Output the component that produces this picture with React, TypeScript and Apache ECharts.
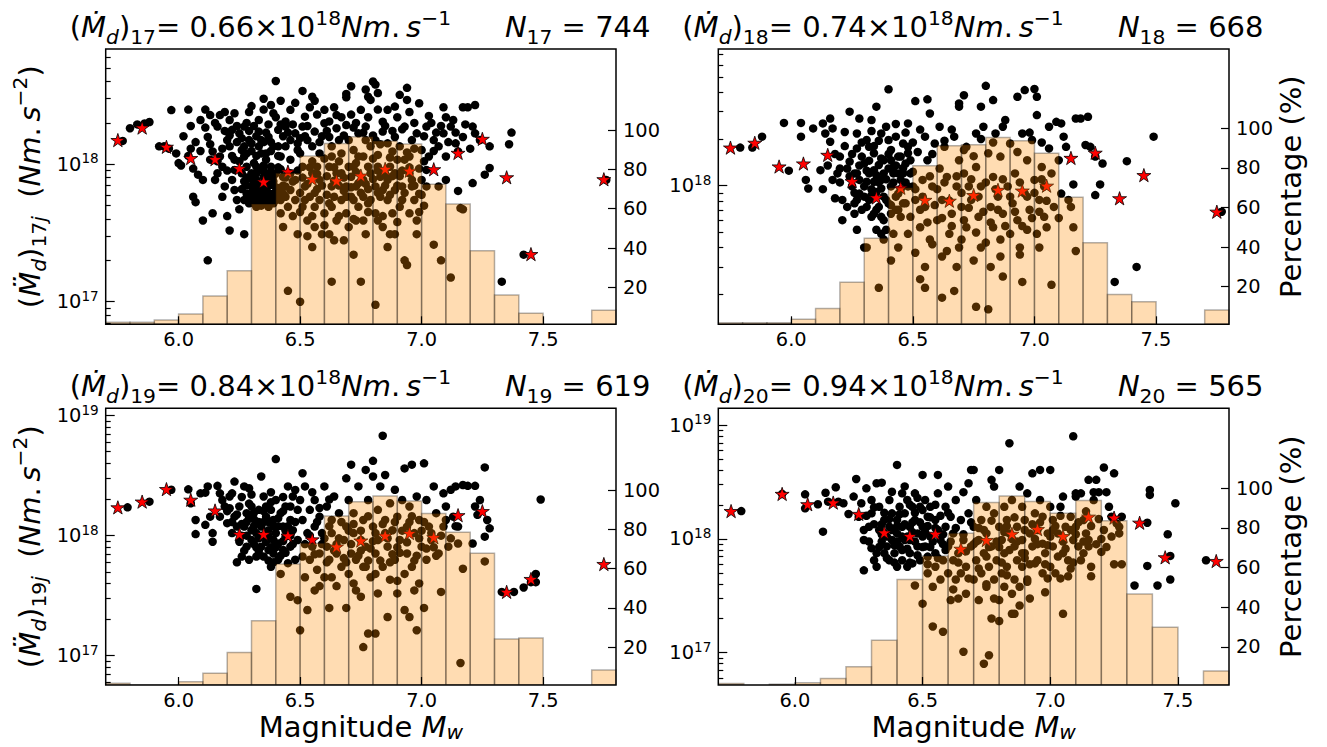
import { useEffect, useRef } from 'react';
import * as echarts from 'echarts';

// ---------------- data ----------------
const YEARS = ['17', '18', '19', '20'];
const MEAN_RATES = ['0.66', '0.74', '0.84', '0.94'];
const COUNTS = [744, 668, 619, 565];
const X_TICKS = [6.0, 6.5, 7.0, 7.5];
const PCT_TICKS = [20, 40, 60, 80, 100];
const LOG_MAJOR = [1e17, 1e18, 1e19];
const BIN_LEFT = [5.7, 5.8, 5.9, 6.0, 6.1, 6.2, 6.3, 6.4, 6.5, 6.6, 6.7, 6.8, 6.9, 7.0, 7.1, 7.2, 7.3, 7.4, 7.5, 7.6, 7.7];
const BIN_WIDTH = 0.1;

const P17_PCT = [2.3, 2.3, 3.4, 6.4, 15.6, 28.4, 62.4, 78.0, 86.8, 93.2, 96.6, 94.4, 92.9, 72.4, 62.4, 38.6, 16.1, 6.8, 0, 0, 8.4];
const P18_PCT = [1.8, 1.8, 1.8, 3.5, 9.0, 22.2, 44.4, 70.0, 81.0, 91.2, 91.6, 95.3, 93.7, 87.4, 65.1, 42.2, 16.1, 12.4, 0, 0, 8.2];
const P19_PCT = [1.7, 0.8, 0.8, 2.5, 6.8, 17.4, 33.5, 62.4, 72.9, 86.8, 94.1, 97.0, 94.4, 88.1, 78.5, 67.8, 24.2, 24.7, 0, 0, 8.4];
const P20_PCT = [1.5, 0, 1.1, 1.8, 4.0, 9.9, 23.3, 54.0, 65.8, 77.3, 92.9, 96.1, 93.3, 87.4, 93.8, 83.6, 46.6, 29.8, 0, 7.8];

// stars: [magnitude bin centre, value in 1e18 Nm.s^-2]
const P17_STARS = [[5.75,1.50],[5.85,1.85],[5.95,1.34],[6.05,1.11],[6.15,1.09],[6.25,0.935],[6.35,0.747],[6.45,0.884],[6.55,0.782],[6.65,0.76],[6.75,0.827],[6.85,0.925],[6.95,0.898],[7.05,0.92],[7.15,1.21],[7.25,1.53],[7.35,0.804],[7.45,0.222],[7.75,0.778]];
const P18_STARS = [[5.75,1.76],[5.85,1.89],[5.95,1.33],[6.05,1.39],[6.15,1.58],[6.25,1.07],[6.35,0.84],[6.45,0.97],[6.55,0.81],[6.65,0.80],[6.75,0.87],[6.85,0.94],[6.95,0.93],[7.05,1.0],[7.15,1.51],[7.25,1.63],[7.35,0.83],[7.45,1.17],[7.75,0.68]];
const P19_STARS = [[5.75,1.72],[5.85,1.92],[5.95,2.44],[6.05,1.99],[6.15,1.62],[6.25,1.03],[6.35,1.03],[6.45,1.0],[6.55,0.93],[6.65,0.81],[6.75,0.91],[6.85,1.0],[6.95,1.05],[7.05,0.97],[7.15,1.48],[7.25,1.6],[7.35,0.34],[7.45,0.435],[7.75,0.58]];
const P20_STARS = [[5.75,1.76],[5.95,2.49],[6.05,2.02],[6.15,2.09],[6.25,1.66],[6.35,1.14],[6.45,1.06],[6.55,1.11],[6.65,0.82],[6.75,0.98],[6.85,1.11],[6.95,1.22],[7.05,1.06],[7.15,1.57],[7.25,1.54],[7.35,1.39],[7.45,0.69],[7.65,0.64]];

// dots: [magnitude, value in 1e18 Nm.s^-2]
const P17_DOTS = [[5.77,1.48],[5.80,1.83],[5.83,1.95],[5.86,1.98],[5.88,2.03],[5.92,1.35],[5.94,1.35],[5.97,2.48],[5.96,1.3],[5.99,1.2],[6.00,1.02],[6.01,0.98],[6.04,2.5],[6.04,1.15],[6.05,1.3],[6.06,0.58],[6.07,0.53],[6.08,0.84],[6.06,0.93],[6.09,2.1],[6.10,0.77],[6.10,0.39],[6.11,2.5],[6.12,0.2],[6.12,1.58],[6.13,2.28],[6.14,0.44],[6.14,1.24],[6.15,0.77],[6.13,1.08],[6.16,1.88],[6.17,2.28],[6.17,1.14],[6.18,0.96],[6.20,1.5],[6.19,0.69],[6.20,0.42],[6.16,0.86],[6.18,0.58],[6.21,0.33],[6.21,2.1],[6.21,1.35],[6.22,0.77],[6.23,1.08],[6.23,0.91],[6.23,0.65],[6.24,0.55],[6.25,0.47],[6.25,1.68],[6.22,1.78],[6.26,1.27],[6.27,0.31],[6.27,1.14],[6.27,0.75],[6.28,0.61],[6.29,1.5],[6.29,0.52],[6.29,2.4],[6.30,0.69],[6.30,2.65],[6.28,0.96],[6.26,0.86],[6.27,1.88],[6.30,1.42],[6.30,0.86],[6.31,1.02],[6.32,0.73],[6.33,1.73],[6.33,0.61],[6.34,1.2],[6.34,0.55],[6.35,3.0],[6.35,0.81],[6.32,0.49],[6.32,0.96],[6.33,1.35],[6.31,0.65],[6.34,0.91],[6.36,0.69],[6.36,0.58],[6.37,1.58],[6.37,0.49],[6.38,0.88],[6.39,0.75],[6.39,1.35],[6.40,4.04],[6.41,1.78],[6.41,0.67],[6.42,1.14],[6.42,0.55],[6.43,0.81],[6.36,1.08],[6.37,0.77],[6.35,0.63],[6.38,0.96],[6.39,0.61],[6.40,0.86],[6.40,0.55],[6.36,1.2],[6.32,0.77],[6.35,0.98],[6.38,0.71],[6.30,0.57],[6.31,0.52],[6.44,1.88],[6.44,0.69],[6.46,1.5],[6.46,0.86],[6.46,2.49],[6.48,1.68],[6.48,0.77],[6.49,1.42],[6.49,1.27],[6.45,0.12],[6.45,0.49],[6.47,0.42],[6.48,0.55],[6.49,0.31],[6.50,0.1],[6.46,1.08],[6.43,0.61],[6.42,0.44],[6.43,0.35],[6.51,3.42],[6.51,1.88],[6.51,0.96],[6.51,0.49],[6.53,1.5],[6.53,0.39],[6.55,1.35],[6.55,0.86],[6.55,0.25],[6.52,0.69],[6.54,0.58],[6.50,1.2],[6.52,2.22],[6.55,3.1],[6.56,2.9],[6.56,0.49],[6.56,1.73],[6.56,0.35],[6.58,1.2],[6.58,0.77],[6.58,0.55],[6.60,2.49],[6.60,1.99],[6.60,0.44],[6.57,0.96],[6.59,0.31],[6.62,1.58],[6.62,0.96],[6.62,0.31],[6.63,0.14],[6.63,1.35],[6.63,0.49],[6.65,2.28],[6.65,1.83],[6.65,0.86],[6.65,0.39],[6.63,0.69],[6.64,0.58],[6.63,1.14],[6.67,1.2],[6.67,0.55],[6.68,0.28],[6.69,1.93],[6.69,0.69],[6.69,0.44],[6.69,3.25],[6.69,3.07],[6.70,1.5],[6.70,0.35],[6.67,0.86],[6.66,1.5],[6.70,0.96],[6.71,3.7],[6.72,1.27],[6.72,0.96],[6.72,0.55],[6.74,1.68],[6.74,0.49],[6.75,2.49],[6.75,0.14],[6.73,0.69],[6.73,0.39],[6.71,0.81],[6.74,1.14],[6.76,1.14],[6.76,0.77],[6.76,0.39],[6.77,3.5],[6.77,1.88],[6.77,0.31],[6.78,3.1],[6.79,1.35],[6.79,0.86],[6.79,0.55],[6.76,0.58],[6.78,0.96],[6.77,1.5],[6.79,2.94],[6.80,4.0],[6.81,3.8],[6.81,1.5],[6.81,0.44],[6.81,0.095],[6.82,3.3],[6.82,1.17],[6.82,0.39],[6.82,0.96],[6.84,2.04],[6.84,1.73],[6.84,0.35],[6.81,0.69],[6.83,0.58],[6.83,0.81],[6.86,2.49],[6.86,1.42],[6.86,0.77],[6.86,0.55],[6.88,1.24],[6.88,0.44],[6.87,0.96],[6.89,0.65],[6.87,0.31],[6.89,2.63],[6.89,1.58],[6.89,0.31],[6.89,0.86],[6.91,3.2],[6.91,1.35],[6.91,0.49],[6.90,1.08],[6.92,0.69],[6.93,0.2],[6.94,0.185],[6.92,0.55],[6.94,3.6],[6.94,2.94],[6.93,1.88],[6.93,1.08],[6.95,1.14],[6.95,0.44],[6.96,1.5],[6.96,0.69],[6.97,0.55],[6.98,1.68],[6.98,0.39],[6.98,0.31],[6.99,0.61],[6.95,0.86],[6.99,2.78],[7.00,1.27],[7.00,0.77],[7.02,1.88],[7.02,0.69],[7.03,2.25],[7.03,1.14],[7.05,1.5],[7.05,0.26],[7.07,1.35],[7.07,0.69],[7.08,0.2],[7.02,0.91],[7.09,2.6],[7.09,1.68],[7.10,1.14],[7.10,0.77],[7.12,1.88],[7.12,0.15],[7.13,2.1],[7.14,1.42],[7.15,1.24],[7.15,0.64],[7.17,1.58],[7.17,2.6],[7.16,0.48],[7.17,0.47],[7.19,2.6],[7.21,1.88],[7.21,0.73],[7.22,2.7],[7.22,1.68],[7.24,1.5],[7.28,1.35],[7.28,0.94],[7.26,0.84],[7.33,0.14],[7.36,1.4],[7.37,1.7],[7.42,0.22],[7.76,0.77],[6.19,1.75],[6.21,1.62],[6.24,1.45],[6.27,1.35],[6.30,1.25],[6.32,1.6],[6.35,1.45],[6.38,1.25],[6.41,1.35],[6.43,1.6],[6.28,2.0],[6.33,2.1],[6.37,1.95],[6.40,2.2],[6.44,2.05],[6.23,2.35],[6.38,2.7],[6.42,2.9],[6.46,0.65],[6.50,0.62],[6.53,0.72],[6.57,0.66],[6.61,0.6],[6.64,0.76],[6.68,0.64],[6.71,0.58],[6.74,0.73],[6.78,0.66],[6.82,0.62],[6.85,0.7],[6.88,0.82],[6.92,0.9],[6.96,0.77],[6.99,0.93],[6.55,1.05],[6.60,1.1],[6.66,1.05],[6.73,1.02],[6.80,1.1],[6.87,1.12],[6.94,1.22],[7.01,1.05],[6.26,0.66],[6.28,0.7],[6.29,0.58],[6.31,0.6],[6.33,0.68],[6.34,0.5],[6.36,0.52],[6.37,0.62],[6.39,0.52],[6.41,0.6],[6.43,0.7],[6.27,0.55],[6.30,0.78],[6.35,0.72],[6.39,0.82],[6.42,0.92],[6.44,0.8],[6.52,1.6],[6.58,1.45],[6.61,1.75],[6.68,1.62],[6.72,1.85],[6.76,1.7],[6.80,1.62],[6.83,1.4],[6.88,1.75],[6.92,1.8],[6.97,1.3],[7.01,1.6],[7.05,1.25],[7.08,1.9],[7.11,1.45],[7.14,1.7],[7.20,1.3],[6.02,1.6],[6.05,1.9],[6.07,1.45],[6.09,1.25],[6.11,1.85],[6.13,1.4],[6.15,2.0],[6.16,1.05],[6.18,1.3],[6.19,2.4],[6.20,0.9],[6.22,1.15],[6.24,1.9],[6.25,1.05],[6.26,1.55],[6.28,1.2],[6.29,1.75],[6.31,1.9],[6.32,1.15],[6.34,1.5],[6.35,2.5],[6.36,1.7],[6.38,1.45],[6.39,2.35],[6.41,1.15],[6.42,1.95],[6.44,1.35],[6.45,1.7],[6.47,1.95],[6.48,2.8],[6.50,1.55],[6.53,1.9],[6.54,2.6],[6.57,2.3],[6.59,1.6],[6.62,2.05],[6.64,2.6],[6.67,2.2],[6.71,2.3],[6.73,2.0],[6.78,2.2],[6.82,2.5],[6.85,1.9],[6.90,2.2],[6.95,2.4],[6.97,2.0],[7.04,2.0],[7.06,1.7],[7.10,2.2],[7.18,1.95],[6.28,0.8],[6.30,0.62],[6.32,0.86],[6.33,0.55],[6.35,0.9],[6.37,0.7],[6.38,0.55],[6.40,0.68],[6.41,0.95],[6.42,0.65],[6.44,0.58],[6.36,0.85],[6.47,0.75],[6.49,0.9],[6.51,0.8],[6.52,0.55],[6.54,0.95],[6.56,0.62],[6.57,0.85],[6.59,0.7],[6.61,0.82],[6.62,0.52],[6.64,0.95],[6.66,0.7],[6.68,0.8],[6.69,0.58],[6.71,0.68],[6.73,0.88],[6.75,0.62],[6.77,0.72],[6.78,0.52],[6.80,0.78],[6.82,0.9],[6.84,0.65],[6.85,0.85],[6.87,0.6],[6.90,0.7],[6.91,0.82],[6.93,0.62],[6.95,0.95],[6.97,0.7],[7.00,0.6],[7.01,0.5],[6.55,0.42],[6.60,0.36],[6.66,0.42],[6.72,0.4],[6.78,0.45],[6.84,0.42],[6.90,0.38],[6.64,0.28],[6.72,0.22],[6.86,0.25],[6.53,0.3],[6.99,0.45],[6.50,0.45]];

const P18_DOTS = [[5.79,1.76],[5.84,1.76],[5.88,2.07],[5.97,2.54],[5.99,1.25],[6.04,2.07],[6.04,2.54],[6.06,1.09],[6.07,0.96],[6.09,2.34],[6.12,1.26],[6.13,2.52],[6.13,0.95],[6.14,2.17],[6.16,2.71],[6.17,2.34],[6.17,1.09],[6.16,1.92],[6.18,0.83],[6.19,1.2],[6.20,1.54],[6.20,1.29],[6.21,0.81],[6.21,0.6],[6.22,2.22],[6.23,1.29],[6.24,3.0],[6.24,1.43],[6.25,0.99],[6.26,0.77],[6.27,2.17],[6.27,0.52],[6.27,1.74],[6.27,1.2],[6.28,2.71],[6.28,0.89],[6.29,0.7],[6.30,1.39],[6.31,1.97],[6.31,1.06],[6.32,0.81],[6.33,2.65],[6.33,0.63],[6.34,1.26],[6.34,1.62],[6.35,3.23],[6.35,0.91],[6.35,0.52],[6.36,0.22],[6.36,0.73],[6.37,2.17],[6.37,1.09],[6.38,1.46],[6.38,0.6],[6.39,0.81],[6.40,1.97],[6.40,1.29],[6.40,4.18],[6.41,0.99],[6.41,0.33],[6.41,1.7],[6.41,0.66],[6.42,1.2],[6.42,0.49],[6.43,2.07],[6.43,0.85],[6.44,1.54],[6.44,0.4],[6.45,1.09],[6.45,0.63],[6.46,1.87],[6.46,0.77],[6.47,1.39],[6.48,2.52],[6.48,0.49],[6.48,0.99],[6.48,1.78],[6.49,0.63],[6.50,1.23],[6.51,3.51],[6.51,0.81],[6.51,0.37],[6.52,1.65],[6.53,0.54],[6.53,0.25],[6.54,1.09],[6.55,2.07],[6.55,0.22],[6.55,0.73],[6.56,3.6],[6.56,1.46],[6.57,2.92],[6.57,0.45],[6.58,0.99],[6.59,1.87],[6.60,0.6],[6.61,2.4],[6.61,1.29],[6.62,0.19],[6.62,0.35],[6.62,0.81],[6.63,1.78],[6.64,1.14],[6.65,0.49],[6.66,0.66],[6.67,0.21],[6.67,2.07],[6.68,0.99],[6.69,3.39],[6.69,1.46],[6.69,3.23],[6.69,0.4],[6.70,0.73],[6.71,3.83],[6.71,1.2],[6.72,1.78],[6.72,0.54],[6.73,0.99],[6.74,0.81],[6.75,0.33],[6.76,0.166],[6.76,2.17],[6.76,1.32],[6.77,0.63],[6.78,3.23],[6.78,0.99],[6.79,2.4],[6.80,0.43],[6.80,4.4],[6.81,0.16],[6.81,1.62],[6.82,0.73],[6.83,3.56],[6.83,1.14],[6.83,0.54],[6.84,2.17],[6.85,0.85],[6.86,0.35],[6.86,1.54],[6.87,0.66],[6.87,0.26],[6.88,2.65],[6.89,0.99],[6.90,0.49],[6.90,1.87],[6.91,0.77],[6.92,1.2],[6.93,3.74],[6.93,0.6],[6.94,0.4],[6.95,2.17],[6.95,0.24],[6.96,0.89],[6.96,4.13],[6.97,1.46],[6.97,0.52],[6.98,0.7],[6.99,1.97],[7.00,1.09],[7.00,4.2],[7.01,3.74],[7.01,2.85],[7.01,0.49],[7.02,0.81],[7.03,1.32],[7.04,0.63],[7.04,0.99],[7.05,0.54],[7.06,1.74],[7.07,1.2],[7.07,0.23],[7.08,0.73],[7.09,2.58],[7.10,1.46],[7.11,0.89],[7.11,2.52],[7.12,2.07],[7.13,1.78],[7.14,0.81],[7.15,0.73],[7.16,1.02],[7.16,0.54],[7.17,0.38],[7.17,2.71],[7.19,2.71],[7.22,2.78],[7.21,1.83],[7.23,1.78],[7.25,1.54],[7.28,1.39],[7.27,1.02],[7.25,0.87],[7.33,0.24],[7.38,1.44],[7.42,0.3],[7.49,2.07],[7.77,0.68],[6.26,1.2],[6.28,1.09],[6.30,0.99],[6.32,1.2],[6.34,1.06],[6.35,1.17],[6.36,1.36],[6.37,0.96],[6.38,1.2],[6.40,0.77],[6.41,1.46],[6.42,1.32],[6.43,0.7],[6.44,1.2],[6.44,0.89],[6.45,1.54],[6.46,1.2],[6.47,0.77],[6.48,1.62],[6.49,1.46],[6.49,1.2],[6.50,0.99],[6.31,0.73],[6.33,0.87],[6.34,0.66],[6.37,0.63],[6.39,0.52],[6.37,0.49],[6.38,0.45],[6.30,0.4],[6.31,0.4],[6.23,0.73],[6.26,0.66],[6.27,0.81],[6.29,1.54],[6.32,1.78],[6.58,1.6],[6.63,1.95],[6.66,2.3],[6.71,1.7],[6.75,1.55],[6.78,2.0],[6.83,1.9],[6.87,2.4],[6.93,1.65],[6.98,2.2],[7.03,1.9],[7.06,2.4],[6.15,1.35],[6.18,1.6],[6.20,1.05],[6.22,1.8],[6.24,1.15],[6.25,1.6],[6.26,0.9],[6.28,1.35],[6.29,1.9],[6.30,0.85],[6.31,1.25],[6.32,1.45],[6.33,0.95],[6.34,1.8],[6.35,0.7],[6.36,1.05],[6.37,1.5],[6.38,0.85],[6.39,1.1],[6.40,1.6],[6.41,0.75],[6.42,1.05],[6.43,1.35],[6.44,0.7],[6.45,0.95],[6.46,1.3],[6.47,1.05],[6.39,2.4],[6.43,2.5],[6.47,2.2],[6.50,1.9],[6.53,2.3],[6.36,1.95],[6.33,2.25],[6.51,0.95],[6.53,0.7],[6.54,0.85],[6.56,0.58],[6.57,1.15],[6.59,0.75],[6.60,0.95],[6.62,0.62],[6.63,1.05],[6.65,0.8],[6.66,0.55],[6.68,1.15],[6.70,0.9],[6.71,0.6],[6.73,0.72],[6.74,1.1],[6.76,0.5],[6.77,0.85],[6.79,0.68],[6.80,1.05],[6.82,0.58],[6.84,0.95],[6.85,0.7],[6.87,1.1],[6.88,0.55],[6.90,0.85],[6.92,0.68],[6.94,1.05],[6.95,0.55],[6.97,0.85],[6.99,0.62],[7.00,0.9],[7.02,0.68],[7.03,1.1],[7.05,0.8],[6.58,0.42],[6.64,0.38],[6.70,0.45],[6.78,0.4],[6.86,0.45],[6.94,0.36],[7.02,0.4],[6.55,0.3],[6.68,0.3],[6.82,0.3],[7.10,0.62]];

const P19_DOTS = [[5.79,1.72],[5.88,1.92],[5.97,2.41],[6.04,2.43],[6.05,1.86],[6.07,1.35],[6.07,1.03],[6.09,2.25],[6.11,2.28],[6.11,1.23],[6.12,2.57],[6.13,1.44],[6.14,0.89],[6.14,1.05],[6.16,2.6],[6.17,2.25],[6.17,1.44],[6.18,1.98],[6.19,1.75],[6.20,1.27],[6.21,2.12],[6.21,1.69],[6.22,1.05],[6.22,2.25],[6.23,1.44],[6.23,2.82],[6.24,0.6],[6.24,1.19],[6.25,0.89],[6.25,1.75],[6.26,0.67],[6.27,2.57],[6.27,1.19],[6.28,1.54],[6.28,0.81],[6.29,2.48],[6.29,0.63],[6.30,1.11],[6.30,1.75],[6.30,0.92],[6.31,1.37],[6.32,0.67],[6.32,0.36],[6.32,1.05],[6.33,1.64],[6.34,0.81],[6.34,3.11],[6.34,1.19],[6.35,2.12],[6.35,0.67],[6.36,0.89],[6.36,1.44],[6.36,1.75],[6.37,0.76],[6.37,1.11],[6.38,0.55],[6.38,1.64],[6.39,0.92],[6.39,1.35],[6.39,0.71],[6.40,4.34],[6.40,1.98],[6.40,1.05],[6.41,0.63],[6.41,0.86],[6.42,0.48],[6.42,1.54],[6.43,1.19],[6.43,0.76],[6.44,1.75],[6.44,0.98],[6.45,0.59],[6.45,2.57],[6.46,1.35],[6.46,0.31],[6.46,0.81],[6.47,2.12],[6.47,1.11],[6.48,0.63],[6.49,1.64],[6.49,0.29],[6.49,0.92],[6.50,0.163],[6.50,1.98],[6.51,3.31],[6.51,0.67],[6.51,1.35],[6.52,2.57],[6.52,0.45],[6.53,1.05],[6.53,0.24],[6.54,1.64],[6.54,0.63],[6.55,0.81],[6.56,1.19],[6.56,0.35],[6.56,1.98],[6.57,0.52],[6.58,1.44],[6.58,0.71],[6.59,1.05],[6.60,2.57],[6.60,0.45],[6.61,1.75],[6.61,0.81],[6.62,0.25],[6.62,0.63],[6.63,1.35],[6.63,1.05],[6.64,2.12],[6.65,0.38],[6.65,0.71],[6.66,1.54],[6.67,0.55],[6.68,0.92],[6.69,3.0],[6.69,1.19],[6.69,0.25],[6.70,0.48],[6.70,1.98],[6.71,0.71],[6.71,3.9],[6.72,1.05],[6.72,1.54],[6.73,0.35],[6.73,0.63],[6.74,2.57],[6.75,0.31],[6.75,0.92],[6.76,1.35],[6.76,0.118],[6.76,0.55],[6.77,3.53],[6.77,0.81],[6.78,1.98],[6.78,0.153],[6.79,0.45],[6.80,3.11],[6.80,1.19],[6.80,4.2],[6.81,0.153],[6.81,0.71],[6.82,1.64],[6.82,0.33],[6.82,0.92],[6.83,2.57],[6.84,6.8],[6.84,0.55],[6.85,1.35],[6.85,3.2],[6.86,0.21],[6.86,0.81],[6.87,1.86],[6.87,0.43],[6.88,1.11],[6.89,2.41],[6.89,0.63],[6.90,0.33],[6.90,1.44],[6.91,0.92],[6.92,1.98],[6.93,0.48],[6.93,3.63],[6.93,0.24],[6.94,1.19],[6.94,0.71],[6.95,0.21],[6.95,1.75],[6.96,3.9],[6.96,0.55],[6.97,1.05],[6.98,0.163],[6.98,2.12],[6.99,0.40],[6.99,1.35],[7.00,0.81],[7.01,4.0],[7.01,0.25],[7.02,0.63],[7.02,1.98],[7.03,1.19],[7.04,0.92],[7.05,2.57],[7.06,1.54],[7.07,0.71],[7.08,0.34],[7.09,2.25],[7.09,1.19],[7.10,1.75],[7.11,0.81],[7.12,2.41],[7.13,1.44],[7.14,2.57],[7.15,1.19],[7.15,0.86],[7.16,0.087],[7.17,0.53],[7.17,2.64],[7.19,2.6],[7.22,1.75],[7.22,2.6],[7.23,1.49],[7.24,1.98],[7.26,0.61],[7.26,3.7],[7.26,0.98],[7.27,1.35],[7.28,1.15],[7.21,0.86],[7.33,0.34],[7.38,0.34],[7.42,0.37],[7.47,0.48],[7.47,0.41],[7.49,2.0],[7.45,0.41],[6.26,1.0],[6.28,1.3],[6.31,0.85],[6.33,0.95],[6.35,1.3],[6.37,1.0],[6.39,1.2],[6.41,1.4],[6.43,0.9],[6.45,1.2],[6.47,0.85],[6.27,0.75],[6.33,0.75],[6.29,1.4],[6.38,0.8],[6.60,0.95],[6.65,0.85],[6.70,1.1],[6.75,0.75],[6.80,0.9],[6.85,1.05],[6.90,0.8],[6.95,1.3],[7.00,1.1],[7.05,0.8],[6.68,0.65],[6.78,0.62],[6.88,0.7],[6.98,0.68],[6.20,1.6],[6.22,1.3],[6.24,1.5],[6.26,1.25],[6.26,2.1],[6.28,1.0],[6.29,1.85],[6.31,1.2],[6.31,1.55],[6.32,0.8],[6.33,1.3],[6.34,1.0],[6.35,1.6],[6.37,1.3],[6.37,0.62],[6.38,1.9],[6.40,0.8],[6.41,1.2],[6.42,0.68],[6.43,1.6],[6.44,1.1],[6.46,1.0],[6.46,1.75],[6.48,1.3],[6.30,2.2],[6.38,2.3],[6.43,2.1],[6.48,2.4],[6.55,2.3],[6.58,1.7],[6.62,2.0],[6.33,0.7],[6.39,0.6],[6.44,0.72],[6.52,0.85],[6.54,1.0],[6.56,0.7],[6.57,1.3],[6.59,0.85],[6.61,0.6],[6.62,1.2],[6.64,0.75],[6.66,0.95],[6.67,1.3],[6.69,0.6],[6.71,0.85],[6.72,1.25],[6.74,0.68],[6.75,1.1],[6.77,0.55],[6.78,1.45],[6.79,0.78],[6.81,1.05],[6.83,0.62],[6.84,1.25],[6.86,0.95],[6.87,0.6],[6.89,1.3],[6.91,0.72],[6.92,1.1],[6.94,0.88],[6.96,1.45],[6.97,0.62],[6.99,0.95],[7.01,1.3],[7.02,0.78],[7.04,1.05],[7.06,0.68],[7.08,1.0],[7.10,1.35],[7.12,0.95],[7.14,1.2],[6.63,0.45],[6.72,0.4],[6.81,0.48],[6.90,0.42],[6.97,0.35],[6.58,0.38]];

const P20_DOTS = [[5.79,1.76],[5.95,2.49],[6.04,2.47],[6.04,1.86],[6.09,2.02],[6.11,1.16],[6.12,2.55],[6.13,2.13],[6.16,2.85],[6.17,2.13],[6.19,2.06],[6.21,1.66],[6.23,2.36],[6.24,3.37],[6.25,1.57],[6.26,2.06],[6.27,0.53],[6.27,0.98],[6.28,2.79],[6.29,1.28],[6.30,0.83],[6.30,2.2],[6.30,1.68],[6.31,0.65],[6.32,0.57],[6.32,3.09],[6.33,1.2],[6.33,1.92],[6.34,0.95],[6.34,3.13],[6.35,0.75],[6.35,1.47],[6.35,1.12],[6.36,0.86],[6.37,2.2],[6.37,0.65],[6.37,1.28],[6.38,1.68],[6.38,0.98],[6.39,0.75],[6.40,4.48],[6.40,1.47],[6.40,0.57],[6.40,1.12],[6.41,1.92],[6.41,0.86],[6.42,2.52],[6.42,1.28],[6.42,0.65],[6.43,0.98],[6.43,1.68],[6.44,0.57],[6.44,2.2],[6.45,0.75],[6.45,1.28],[6.45,0.98],[6.46,1.92],[6.46,0.61],[6.47,2.52],[6.47,1.47],[6.47,0.39],[6.48,0.86],[6.48,1.12],[6.49,1.92],[6.49,0.65],[6.50,0.27],[6.50,1.28],[6.50,3.66],[6.51,0.86],[6.51,2.2],[6.52,0.5],[6.52,1.57],[6.52,0.7],[6.53,1.05],[6.53,1.92],[6.54,0.38],[6.54,0.17],[6.55,0.75],[6.55,1.47],[6.55,0.57],[6.56,3.66],[6.56,2.52],[6.57,0.98],[6.57,0.44],[6.58,0.65],[6.58,0.153],[6.59,1.28],[6.59,1.92],[6.60,0.5],[6.60,0.86],[6.60,2.89],[6.61,0.29],[6.61,1.57],[6.62,0.65],[6.62,0.36],[6.62,1.12],[6.63,2.2],[6.63,0.44],[6.64,0.75],[6.65,1.47],[6.65,0.5],[6.66,2.58],[6.66,0.102],[6.66,0.98],[6.67,0.33],[6.67,0.57],[6.68,1.68],[6.68,3.09],[6.69,0.86],[6.69,4.05],[6.70,0.44],[6.70,1.28],[6.70,4.05],[6.71,0.65],[6.71,2.2],[6.72,0.29],[6.72,0.98],[6.73,0.5],[6.73,1.47],[6.74,0.75],[6.74,0.08],[6.75,1.92],[6.75,0.38],[6.75,1.12],[6.76,0.095],[6.76,0.57],[6.77,0.2],[6.77,3.31],[6.77,0.86],[6.78,1.68],[6.78,0.44],[6.78,2.89],[6.79,0.65],[6.80,1.28],[6.80,0.29],[6.80,4.05],[6.80,0.19],[6.81,0.98],[6.81,0.5],[6.82,1.92],[6.82,0.75],[6.82,0.38],[6.83,1.47],[6.83,0.57],[6.84,6.95],[6.84,1.12],[6.85,0.33],[6.85,0.22],[6.85,2.2],[6.86,0.86],[6.86,0.44],[6.86,0.22],[6.87,1.28],[6.87,0.65],[6.88,2.89],[6.88,0.38],[6.89,0.98],[6.89,1.92],[6.89,0.57],[6.90,1.47],[6.90,0.75],[6.91,2.52],[6.91,0.44],[6.92,1.12],[6.92,0.3],[6.93,0.86],[6.93,3.78],[6.94,0.61],[6.94,1.68],[6.95,1.2],[6.95,0.65],[6.96,4.05],[6.96,2.2],[6.97,0.91],[6.97,0.5],[6.97,1.57],[6.98,0.34],[6.98,0.75],[6.99,1.12],[7.00,1.92],[7.00,0.57],[7.00,4.05],[7.01,0.86],[7.01,1.47],[7.02,0.5],[7.03,1.12],[7.04,0.45],[7.04,1.92],[7.05,0.22],[7.05,0.75],[7.05,2.36],[7.06,1.28],[7.07,0.47],[7.07,0.65],[7.08,1.57],[7.09,8.0],[7.09,0.98],[7.10,2.52],[7.10,2.36],[7.10,1.28],[7.11,0.86],[7.12,2.52],[7.12,0.65],[7.13,0.75],[7.13,1.47],[7.14,1.12],[7.15,3.31],[7.15,0.86],[7.16,0.57],[7.16,0.47],[7.17,2.2],[7.17,2.58],[7.18,3.31],[7.19,2.58],[7.20,0.77],[7.21,4.25],[7.22,2.58],[7.23,1.92],[7.24,1.57],[7.25,3.78],[7.26,1.37],[7.27,1.12],[7.25,0.6],[7.27,1.28],[7.28,1.57],[7.28,0.6],[7.33,0.39],[7.38,1.39],[7.38,0.58],[7.39,2.7],[7.39,2.44],[7.42,0.39],[7.46,1.1],[7.47,0.71],[7.47,0.44],[7.49,2.06],[7.61,0.65],[6.33,0.85],[6.36,1.05],[6.39,0.88],[6.42,1.05],[6.44,0.82],[6.47,0.95],[6.50,1.05],[6.53,0.85],[6.34,1.35],[6.40,1.3],[6.46,1.4],[6.52,1.3],[6.56,1.2],[6.58,0.9],[6.70,0.9],[6.75,0.7],[6.80,0.85],[6.85,1.0],[6.90,0.68],[6.95,0.9],[7.00,1.05],[7.05,0.95],[7.10,1.1],[7.15,0.98],[7.20,1.0],[6.72,1.25],[6.83,1.3],[6.93,1.35],[7.02,1.3],[6.27,1.2],[6.28,1.6],[6.29,0.95],[6.31,1.35],[6.31,1.9],[6.32,0.75],[6.34,1.1],[6.35,1.7],[6.36,0.68],[6.37,1.5],[6.38,1.2],[6.39,0.62],[6.40,0.95],[6.41,1.65],[6.42,0.8],[6.43,1.35],[6.44,1.05],[6.45,0.62],[6.46,1.15],[6.47,1.7],[6.48,0.72],[6.49,1.4],[6.50,0.85],[6.51,1.15],[6.52,0.6],[6.53,1.55],[6.54,0.95],[6.55,1.25],[6.56,0.68],[6.57,1.6],[6.58,1.1],[6.59,0.8],[6.45,2.0],[6.50,1.8],[6.55,2.0],[6.60,1.7],[6.38,2.6],[6.43,2.9],[6.48,2.3],[6.61,0.95],[6.63,1.25],[6.64,0.62],[6.66,1.1],[6.67,0.78],[6.69,1.4],[6.71,0.95],[6.72,0.55],[6.74,1.2],[6.76,0.85],[6.77,1.45],[6.79,0.95],[6.81,0.62],[6.82,1.15],[6.84,0.8],[6.86,1.55],[6.87,0.95],[6.89,0.75],[6.90,1.2],[6.92,0.6],[6.94,1.0],[6.96,1.4],[6.98,0.6],[6.99,0.88],[7.01,1.2],[7.03,0.7],[7.04,1.6],[7.06,0.82],[7.08,1.2],[7.09,0.62],[7.11,1.4],[7.13,0.95],[7.14,1.75],[7.16,1.3],[7.18,0.9],[7.19,1.5],[7.21,1.2],[7.22,0.85],[7.24,1.05],[6.68,0.45],[6.75,0.4],[6.83,0.48],[6.91,0.42],[6.99,0.45],[6.64,0.3],[6.78,0.3],[6.88,0.26],[7.08,0.55]];

const DOTS = [P17_DOTS, P18_DOTS, P19_DOTS, P20_DOTS];
const STARS = [P17_STARS, P18_STARS, P19_STARS, P20_STARS];
const PCTS = [P17_PCT, P18_PCT, P19_PCT, P20_PCT];

// axis ranges
const X_MIN = 5.7;
const X_MAX = [7.8, 7.8, 7.8, 7.7];
const Y_MIN = [6.85e16, 1.28e17, 5.7e16, 5.2e16];
const Y_MAX = [6.9e18, 7.6e18, 1.15e19, 1.41e19];
const PCT_MIN = [1.2, 1.0, 0.8, 0.7];
const PCT_MAX = [141.2, 140.0, 141.6, 140.4];

// ---------------- layout ----------------
const RECTS = [
  { l: 105.7, t: 49, w: 510.3, h: 275.3 },
  { l: 718.3, t: 49, w: 510.7, h: 275.3 },
  { l: 105.7, t: 408.3, w: 510.3, h: 276.7 },
  { l: 718.3, t: 408.3, w: 510.7, h: 276.7 },
];
const FONT = "'DejaVu Sans', sans-serif";
const LABEL_SIZE = 29;
const STAR = 'path://M50,0 L61.23,34.55 L97.55,34.55 L68.16,55.9 L79.39,90.45 L50,69.1 L20.61,90.45 L31.84,55.9 L2.45,34.55 L38.77,34.55 Z';

function richSet(base: number, lh: number) {
  const small = base * 0.7;
  const mk = (o: any) => ({ fontFamily: FONT, fill: '#000', color: '#000', ...o });
  return {
    p: mk({ fontSize: base, lineHeight: lh }),
    i: mk({ fontSize: base, lineHeight: lh, fontStyle: 'italic' }),
    sb: mk({ fontSize: small, lineHeight: small, verticalAlign: 'bottom' }),
    sbi: mk({ fontSize: small, lineHeight: small, verticalAlign: 'bottom', fontStyle: 'italic' }),
    sp: mk({ fontSize: small, lineHeight: small, verticalAlign: 'top' }),
  };
}

function minorTicks(lo: number, hi: number) {
  const out: number[] = [];
  for (let e = 15; e <= 20; e++) {
    for (let k = 2; k <= 9; k++) {
      const v = k * Math.pow(10, e);
      if (v > lo && v < hi) out.push(v);
    }
  }
  return out;
}

function buildOption() {
  const grid: any[] = [];
  const xAxis: any[] = [];
  const yAxis: any[] = [];
  const series: any[] = [];
  const graphic: any[] = [];
  const tickLine = { color: '#000', width: 1.2 };
  const tickLabel = { fontSize: 19.4, fontFamily: FONT, color: '#000' };
  const lh = Math.round(LABEL_SIZE * 1.33);

  RECTS.forEach((r, i) => {
    grid.push({ left: r.l, top: r.t, width: r.w, height: r.h, containLabel: false });
    xAxis.push({
      type: 'value', gridIndex: i, min: X_MIN, max: X_MAX[i], z: 10,
      axisLine: { show: false }, splitLine: { show: false },
      axisTick: { show: true, inside: true, length: 8, customValues: X_TICKS, lineStyle: tickLine },
      axisLabel: { show: true, customValues: X_TICKS, formatter: (v: number) => v.toFixed(1), margin: 6, ...tickLabel },
    });
    const majors = LOG_MAJOR.filter((v) => v >= Y_MIN[i] && v <= Y_MAX[i]);
    yAxis.push({
      type: 'log', logBase: 10, gridIndex: i, position: 'left', min: Y_MIN[i], max: Y_MAX[i], z: 10,
      axisLine: { show: false }, splitLine: { show: false },
      axisTick: { show: true, inside: true, length: 9, customValues: majors, lineStyle: tickLine },
      axisLabel: {
        show: true, customValues: majors, margin: 7,
        formatter: (v: number) => `{b|10}{s|${Math.round(Math.log10(v))}}`,
        rich: {
          b: { fontSize: 19.4, fontFamily: FONT, color: '#000', lineHeight: 26 },
          s: { fontSize: 13.6, fontFamily: FONT, color: '#000', lineHeight: 13.6, verticalAlign: 'top' },
        },
      },
    });
    yAxis.push({
      type: 'log', logBase: 10, gridIndex: i, position: 'left', min: Y_MIN[i], max: Y_MAX[i], z: 10,
      axisLine: { show: false }, splitLine: { show: false }, axisLabel: { show: false },
      axisTick: { show: true, inside: true, length: 5, customValues: minorTicks(Y_MIN[i], Y_MAX[i]), lineStyle: tickLine },
    });
    yAxis.push({
      type: 'value', gridIndex: i, position: 'right', min: PCT_MIN[i], max: PCT_MAX[i], z: 10,
      axisLine: { show: false }, splitLine: { show: false },
      axisTick: { show: true, inside: true, length: 8, customValues: PCT_TICKS, lineStyle: tickLine },
      axisLabel: { show: true, customValues: PCT_TICKS, margin: 7, ...tickLabel },
    });

    series.push({
      type: 'scatter', xAxisIndex: i, yAxisIndex: 3 * i, z: 2, silent: true,
      symbolSize: 8.5, itemStyle: { color: '#000', opacity: 1 },
      data: DOTS[i].map(([m, v]) => [m, v * 1e18]),
    });
    series.push({
      type: 'scatter', xAxisIndex: i, yAxisIndex: 3 * i, z: 3, silent: true,
      symbol: STAR, symbolSize: 14, symbolKeepAspect: true,
      itemStyle: { color: '#ff0000', borderColor: '#000', borderWidth: 0.8, opacity: 1 },
      data: STARS[i].map(([m, v]) => [m, v * 1e18]),
    });
    const base = PCT_MIN[i];
    series.push({
      type: 'custom', xAxisIndex: i, yAxisIndex: 3 * i + 2, z: 4, silent: true, clip: true,
      encode: { x: [0, 1], y: 2 },
      data: PCTS[i].map((p, k) => [BIN_LEFT[k], BIN_LEFT[k] + BIN_WIDTH, p]),
      renderItem: (params: any, api: any) => {
        const h = api.value(2);
        if (!(h > 0)) return null;
        const a = api.coord([api.value(0), h]);
        const b = api.coord([api.value(1), base]);
        return {
          type: 'rect',
          shape: { x: a[0], y: a[1], width: b[0] - a[0], height: b[1] - a[1] },
          style: { fill: 'rgba(255,140,0,0.3)', stroke: 'rgba(0,0,0,0.3)', lineWidth: 1.5 },
        };
      },
    });

    // spines
    graphic.push({
      type: 'rect', z: 100, silent: true,
      shape: { x: r.l, y: r.t, width: r.w, height: r.h },
      style: { fill: 'none', stroke: '#000', lineWidth: 1.5 },
    });
    // titles
    const yr = YEARS[i];
    graphic.push({
      type: 'text', z: 100, x: r.l - 36, y: r.t - 22,
      style: {
        text: `{p|(}{i|\u1E40}{sbi|d}{p|)}{sb|${yr}}{p|= ${MEAN_RATES[i]}\u00D710}{sp|18}{i|Nm}{p|.\u2009}{i|s}{sp|\u22121}`,
        rich: richSet(LABEL_SIZE, lh), align: 'left', verticalAlign: 'middle',
      },
    });
    graphic.push({
      type: 'text', z: 100, x: r.l + r.w + 34.5, y: r.t - 22,
      style: { text: `{i|N}{sb|${yr}}{p| = ${COUNTS[i]}}`, rich: richSet(LABEL_SIZE, lh), align: 'right', verticalAlign: 'middle' },
    });
    const cy = r.t + r.h / 2;
    if (i % 2 === 0) {
      graphic.push({
        type: 'text', z: 100, x: 29.5, y: cy, rotation: Math.PI / 2,
        style: {
          text: `{p|(}{i|M\u0308}{sbi|d}{p|)}{sb|${yr}}{sbi|j}{p|  (}{i|Nm}{p|.\u2009}{i|s}{sp|\u22122}{p|)}`,
          rich: richSet(LABEL_SIZE, lh), align: 'center', verticalAlign: 'middle',
        },
      });
    } else {
      graphic.push({
        type: 'text', z: 100, x: r.l + r.w + 61.5, y: cy, rotation: Math.PI / 2,
        style: { text: '{p|Percentage (%)}', rich: richSet(LABEL_SIZE, lh), align: 'center', verticalAlign: 'middle' },
      });
    }
    if (i >= 2) {
      graphic.push({
        type: 'text', z: 100, x: r.l + r.w / 2, y: 727,
        style: { text: '{p|Magnitude }{i|M}{sbi|w}', rich: richSet(LABEL_SIZE, LABEL_SIZE), align: 'center', verticalAlign: 'middle' },
      });
    }
  });

  return {
    animation: false,
    backgroundColor: '#fff',
    grid, xAxis, yAxis, series,
    graphic: { elements: graphic },
  };
}

export default function App() {
  const ref = useRef<HTMLDivElement>(null);
  useEffect(() => {
    if (!ref.current) return;
    const chart = echarts.init(ref.current, undefined, { renderer: 'svg' });
    chart.setOption(buildOption() as any);
    return () => chart.dispose();
  }, []);
  return <div ref={ref} style={{ position: 'fixed', left: 0, top: 0, width: 1327, height: 747 }} />;
}
